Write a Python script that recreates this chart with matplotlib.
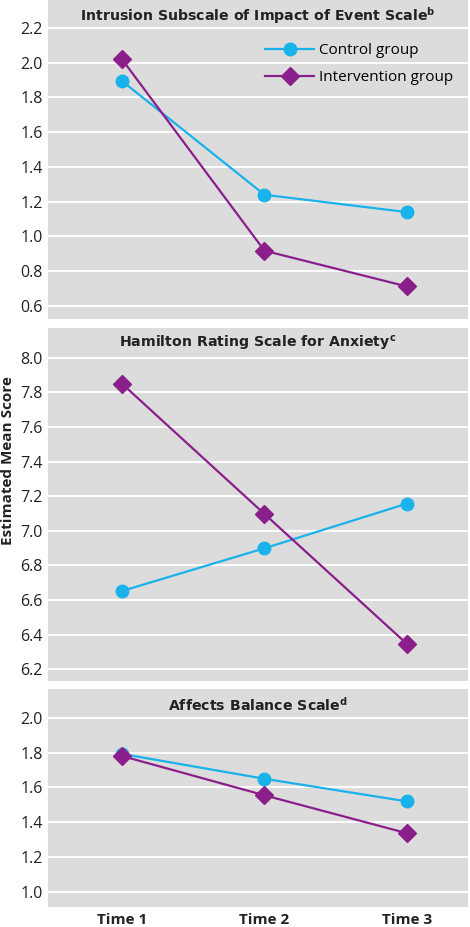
import matplotlib.pyplot as plt

times = ['Time 1', 'Time 2', 'Time 3']

ies_control = [1.895, 1.24, 1.14]
ies_intervention = [2.02, 0.918, 0.712]

ham_control = [6.652, 6.899, 7.157]
ham_intervention = [7.85, 7.097, 6.346]

abs_control = [1.792, 1.649, 1.519]
abs_intervention = [1.78, 1.554, 1.336]

titles = [r'Intrusion Subscale of Impact of Event Scale$^{\mathregular{b}}$',
          r'Hamilton Rating Scale for Anxiety$^{\mathregular{c}}$',
          r'Affects Balance Scale$^{\mathregular{d}}$']

ctrl_color = '#19b2ea'
int_color = '#8a1f8c'
bg = '#dcdcdd'

plt.rcParams['font.family'] = ['Open Sans', 'DejaVu Sans']

fig = plt.figure(figsize=(4.7, 9.27), dpi=100)

# [left, bottom, width, height], ylim, yticks
panels = [
    ([0.1021, 0.6559, 0.8936, 0.3441], (0.525, 2.361), [0.6, 0.8, 1.0, 1.2, 1.4, 1.6, 1.8, 2.0, 2.2],
     ies_control, ies_intervention),
    ([0.1021, 0.2654, 0.8936, 0.3808], (6.132, 8.172), [6.2, 6.4, 6.6, 6.8, 7.0, 7.2, 7.4, 7.6, 7.8, 8.0],
     ham_control, ham_intervention),
    ([0.1021, 0.0216, 0.8936, 0.2351], (0.912, 2.165), [1.0, 1.2, 1.4, 1.6, 1.8, 2.0],
     abs_control, abs_intervention),
]

x = [0, 1, 2]
for i, (pos, ylim, yt, c, iv) in enumerate(panels):
    ax = fig.add_axes(pos)
    ax.set_facecolor(bg)
    for s in ax.spines.values():
        s.set_visible(False)
    ax.set_ylim(*ylim)
    ax.set_xlim(-0.519, 2.428)
    ax.set_yticks(yt)
    ax.set_yticklabels(['%.1f' % v for v in yt])
    ax.yaxis.grid(True, color='white', linewidth=1.4)
    ax.set_axisbelow(True)
    ax.tick_params(length=0, labelsize=11.5, colors='#222222', pad=4)
    ax.plot(x, c, color=ctrl_color, lw=1.6, marker='o', ms=9, label='Control group', zorder=3)
    ax.plot(x, iv, color=int_color, lw=1.6, marker='D', ms=9, label='Intervention group', zorder=3)
    h = pos[3] * 927
    ax.text(0.5, 1 - 16 / h, titles[i], transform=ax.transAxes, ha='center', va='center',
            fontsize=10.2, fontweight='bold', color='#222222', family=['DejaVu Sans'])
    if i < 2:
        ax.set_xticks([])
    else:
        ax.set_xticks(x)
        ax.set_xticklabels(times, fontweight='bold', fontsize=11)
    if i == 0:
        ax.legend(loc='upper left', bbox_to_anchor=(0.517, 0.865), frameon=False, fontsize=11,
                  handlelength=3.2, labelspacing=0.8, handletextpad=0.35, borderaxespad=0,
                  borderpad=0)

fig.text(0.017, 0.503, 'Estimated Mean Score', rotation=90, ha='center', va='center',
         fontsize=11, fontweight='bold', color='#222222')

fig.savefig('out.png', dpi=100)
